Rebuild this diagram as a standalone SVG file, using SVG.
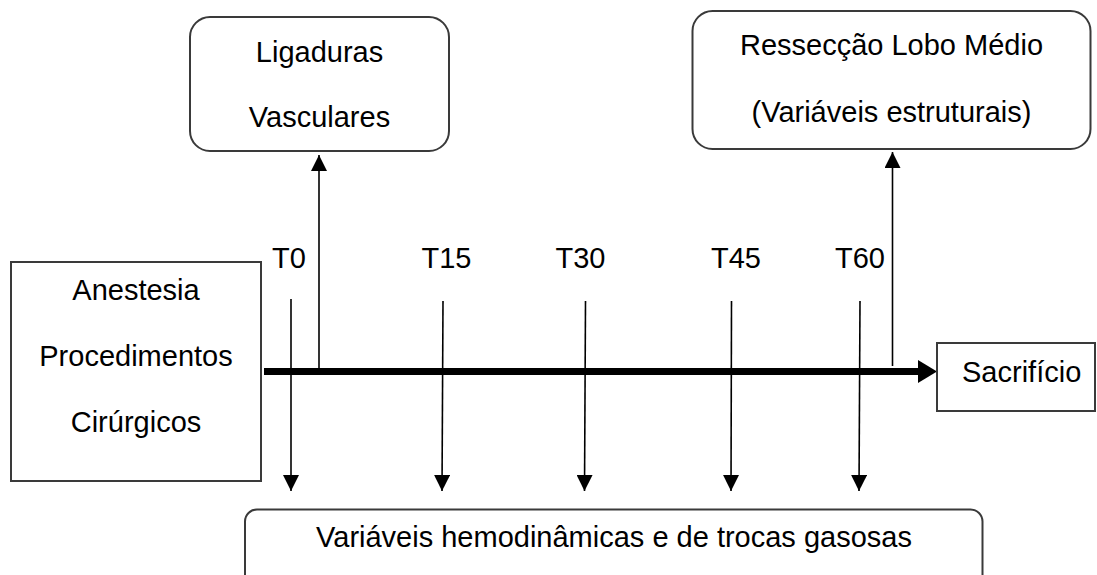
<svg xmlns="http://www.w3.org/2000/svg" width="1097" height="575" viewBox="0 0 1097 575">
<style>
text{font-family:"Liberation Sans",Arial,sans-serif;font-size:29px;fill:#000}
.box{fill:#fff;stroke:#3a3a3a;stroke-width:2}
.ln{stroke:#000;stroke-width:1.6;fill:none}
.c{text-anchor:middle}
</style>
<defs>
<marker id="ah" viewBox="0 0 16 16" refX="16" refY="8" markerWidth="16" markerHeight="16" markerUnits="userSpaceOnUse" orient="auto">
<path d="M0,0 L16,8 L0,16 z" fill="#000"/>
</marker>
</defs>
<g id="connectors">
<line x1="264" y1="371.5" x2="919" y2="371.5" stroke="#000" stroke-width="7"/>
<polygon points="918,360 937,371.5 918,383" fill="#000"/>
<line class="ln" x1="319" y1="368" x2="319" y2="155" marker-end="url(#ah)"/>
<line class="ln" x1="892.5" y1="366" x2="892.5" y2="152" marker-end="url(#ah)"/>
<line class="ln" x1="291" y1="299" x2="291" y2="491" marker-end="url(#ah)"/>
<line class="ln" x1="443" y1="301" x2="442" y2="491" marker-end="url(#ah)"/>
<line class="ln" x1="585.5" y1="301" x2="584.5" y2="491" marker-end="url(#ah)"/>
<line class="ln" x1="731.5" y1="301" x2="731" y2="491" marker-end="url(#ah)"/>
<line class="ln" x1="860" y1="301" x2="859" y2="491" marker-end="url(#ah)"/>
</g>
<g id="labels">
<text class="c" x="289" y="268">T0</text>
<text class="c" x="446.5" y="268">T15</text>
<text class="c" x="580.5" y="268">T30</text>
<text class="c" x="736" y="268">T45</text>
<text class="c" x="860" y="268">T60</text>
</g>
<g id="anestesia">
<rect class="box" x="11" y="262" width="250" height="219"/>
<text class="c" x="136" y="300">Anestesia</text>
<text class="c" x="136" y="366">Procedimentos</text>
<text class="c" x="136" y="432">Cirúrgicos</text>
</g>
<g id="ligaduras">
<rect class="box" x="190" y="17" width="259" height="134" rx="20" ry="20"/>
<text class="c" x="319.5" y="62">Ligaduras</text>
<text class="c" x="319.5" y="127">Vasculares</text>
</g>
<g id="resseccao">
<rect class="box" x="692.5" y="11" width="398" height="138" rx="20" ry="20"/>
<text class="c" x="891.5" y="55">Ressecção Lobo Médio</text>
<text class="c" x="891.5" y="122">(Variáveis estruturais)</text>
</g>
<g id="sacrificio">
<rect class="box" x="937" y="343" width="158" height="68"/>
<text x="962" y="382">Sacrifício</text>
</g>
<g id="variaveis">
<rect class="box" x="245" y="509.5" width="737.5" height="90" rx="12" ry="12"/>
<text class="c" x="614" y="547">Variáveis hemodinâmicas e de trocas gasosas</text>
</g>
</svg>
